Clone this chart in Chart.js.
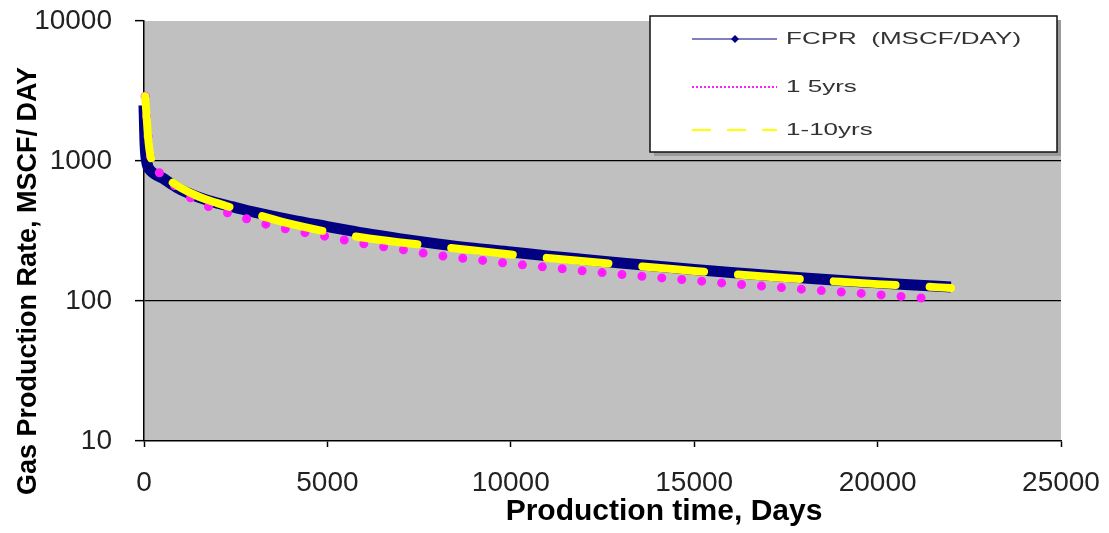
<!DOCTYPE html>
<html>
<head>
<meta charset="utf-8">
<script src="https://cdn.jsdelivr.net/npm/chart.js@4/dist/chart.umd.min.js"></script>
<style>
  html, body { margin: 0; padding: 0; background: #fff; }
  #wrap { width: 1109px; height: 533px; }
</style>
</head>
<body>
<div id="wrap"><canvas id="chart" width="1109" height="533"></canvas></div>
<script>
// 数据：产气量随时间变化（对数坐标）
const daysFcpr = [0, 8, 16, 28, 45, 70, 109, 150, 250, 365, 500, 730, 1000, 1500, 2000, 2500, 3000, 4000, 5000, 6000, 7000, 8000, 9000, 10000, 11000, 12000, 13000, 14000, 15000, 16000, 17000, 18000, 19000, 20000, 21000, 22000];
const rateFcpr = [2500, 2100, 1700, 1350, 1130, 1000, 906, 870, 820, 785, 757, 690, 625, 550, 500, 465, 432, 380, 340, 305, 278, 256, 238, 224, 210, 198, 187, 177, 168, 160, 153, 146, 140, 135, 130, 126];

const days5 = [30, 50, 75, 105, 140, 180, 300, 450, 700, 1000, 1500, 2000, 2500, 3000, 3500, 4000, 5000, 6000, 7000, 8000, 9000, 10000, 11000, 12000, 13000, 14000, 15000, 16000, 17000, 18000, 19000, 20000, 21000, 21600];
const rate5 = [2900, 2500, 2000, 1550, 1250, 1050, 870, 815, 720, 610, 505, 450, 410, 372, 345, 322, 288, 256, 234, 212, 198, 185, 174, 164, 155, 147, 140, 133, 127, 121, 116, 111, 106, 103];

const days10 = [30, 50, 75, 105, 140, 180, 250, 365, 500, 730, 1000, 1500, 2000, 2500, 3000, 4000, 5000, 6000, 7000, 8000, 9000, 10000, 11000, 12000, 13000, 14000, 15000, 16000, 17000, 18000, 19000, 20000, 21000, 22000];
const rate10 = [2900, 2500, 2000, 1550, 1250, 1080, 950, 850, 780, 715, 645, 555, 500, 455, 420, 355, 312, 283, 262, 245, 230, 215, 203, 192, 182, 173, 164, 156, 149, 143, 137, 132, 128, 124];

const seriesNames = ['FCPR  (MSCF/DAY)', '1 5yrs', '1-10yrs'];
const yTicks = [10, 100, 1000, 10000];
const xTitle = 'Production time, Days';
const yTitle = 'Gas Production Rate, MSCF/ DAY';

const FONT = 'Liberation Sans, Arial, sans-serif';
const NAVY = '#000080';
const PINK = '#ff1cff';
const YELLOW = '#ffff00';

function toPoints(xs, ys) {
    return xs.map((x, i) => ({ x: x, y: ys[i] }));
}

// 绘图区灰色背景
const plotBackground = {
    id: 'plotBackground',
    beforeDraw(chart) {
        const { ctx, chartArea: a } = chart;
        ctx.save();
        ctx.fillStyle = '#fff';
        ctx.fillRect(0, 0, chart.width, chart.height);
        ctx.fillStyle = '#c0c0c0';
        ctx.fillRect(a.left, a.top, a.right - a.left, a.bottom - a.top);
        ctx.restore();
    }
};

// 轴标题（位置按原图）
const axisTitles = {
    id: 'axisTitles',
    afterDraw(chart) {
        const { ctx, chartArea: a } = chart;
        ctx.save();
        ctx.fillStyle = '#000';
        ctx.textAlign = 'center';
        ctx.textBaseline = 'middle';
        ctx.font = 'bold 30px ' + FONT;
        ctx.fillText(xTitle, 664, a.bottom + 71);
        ctx.font = 'bold 27px ' + FONT;
        ctx.translate(29, 281);
        ctx.rotate(-Math.PI / 2);
        ctx.fillText(yTitle, 0, 0);
        ctx.restore();
    }
};

// 图例框
const boxLegend = {
    id: 'boxLegend',
    afterDraw(chart) {
        const ctx = chart.ctx;
        const bx = 650, by = 16, bw = 407, bh = 136;
        ctx.save();
        ctx.fillStyle = '#9a9a9a';
        ctx.fillRect(bx + 4, by + 4, bw, bh);
        ctx.fillStyle = '#fff';
        ctx.fillRect(bx, by, bw, bh);
        ctx.strokeStyle = '#111';
        ctx.lineWidth = 1.5;
        ctx.strokeRect(bx, by, bw, bh);

        const x0 = 692, x1 = 777;
        const rows = [39, 87, 130];
        const styles = [
            { color: NAVY, width: 1.2, dash: [] },
            { color: PINK, width: 2, dash: [2, 2] },
            { color: YELLOW, width: 2, dash: [19, 16] }
        ];
        rows.forEach((y, i) => {
            ctx.beginPath();
            ctx.strokeStyle = styles[i].color;
            ctx.lineWidth = styles[i].width;
            ctx.setLineDash(styles[i].dash);
            ctx.moveTo(x0, y);
            ctx.lineTo(x1, y);
            ctx.stroke();
        });
        ctx.setLineDash([]);
        // FCPR 菱形标记
        ctx.fillStyle = NAVY;
        ctx.beginPath();
        ctx.moveTo(735, 35); ctx.lineTo(739, 39); ctx.lineTo(735, 43); ctx.lineTo(731, 39);
        ctx.closePath();
        ctx.fill();

        ctx.fillStyle = '#333';
        ctx.font = '17px ' + FONT;
        ctx.textBaseline = 'middle';
        ctx.textAlign = 'left';
        rows.forEach((y, i) => {
            ctx.save();
            ctx.translate(786, y);
            ctx.scale(1.53, 1);
            ctx.fillText(seriesNames[i], 0, 0);
            ctx.restore();
        });
        ctx.restore();
    }
};

const chart = new Chart(document.getElementById('chart').getContext('2d'), {
    type: 'line',
    data: {
        datasets: [
            {
                label: seriesNames[0],
                data: toPoints(daysFcpr, rateFcpr),
                borderColor: NAVY,
                backgroundColor: NAVY,
                borderWidth: 11,
                pointRadius: 0,
                cubicInterpolationMode: 'monotone',
                clip: false,
                order: 3
            },
            {
                label: seriesNames[1],
                data: toPoints(days5, rate5),
                borderColor: PINK,
                backgroundColor: PINK,
                borderWidth: 9,
                borderDash: [0, 20],
                borderCapStyle: 'round',
                pointRadius: 0,
                cubicInterpolationMode: 'monotone',
                clip: false,
                order: 2
            },
            {
                label: seriesNames[2],
                data: toPoints(days10, rate10),
                borderColor: YELLOW,
                backgroundColor: YELLOW,
                borderWidth: 8,
                borderDash: [62, 34],
                borderCapStyle: 'round',
                pointRadius: 0,
                cubicInterpolationMode: 'monotone',
                clip: false,
                order: 1
            }
        ]
    },
    options: {
        responsive: false,
        animation: false,
        layout: { padding: { top: 21, right: 48, left: 0, bottom: 0 } },
        plugins: {
            legend: { display: false },
            tooltip: { enabled: false }
        },
        scales: {
            x: {
                type: 'linear',
                min: 0,
                max: 25000,
                ticks: {
                    stepSize: 5000,
                    color: '#222',
                    font: { family: FONT, size: 28 },
                    padding: 19,
                    maxRotation: 0,
                    callback: v => String(v)
                },
                grid: {
                    drawOnChartArea: false,
                    drawTicks: true,
                    tickLength: 6,
                    tickColor: '#000',
                    tickWidth: 1.5
                },
                border: { display: true, color: '#000', width: 1.5 },
                afterFit: s => { s.height = 92; s.paddingLeft = 0; s.paddingRight = 0; }
            },
            y: {
                type: 'logarithmic',
                min: 10,
                max: 10000,
                afterBuildTicks: s => { s.ticks = yTicks.map(v => ({ value: v })); },
                ticks: {
                    color: '#222',
                    font: { family: FONT, size: 28 },
                    padding: 23,
                    callback: v => String(v)
                },
                grid: {
                    color: c => (c.tick && (c.tick.value === 100 || c.tick.value === 1000)) ? '#000' : 'rgba(0,0,0,0)',
                    lineWidth: 1.3,
                    tickLength: 9,
                    tickColor: '#000',
                    tickWidth: 1.5
                },
                border: { display: true, color: '#000', width: 1.5 },
                afterFit: s => { s.width = 144; s.paddingTop = 0; s.paddingBottom = 0; }
            }
        }
    },
    plugins: [plotBackground, axisTitles, boxLegend]
});
</script>
</body>
</html>
